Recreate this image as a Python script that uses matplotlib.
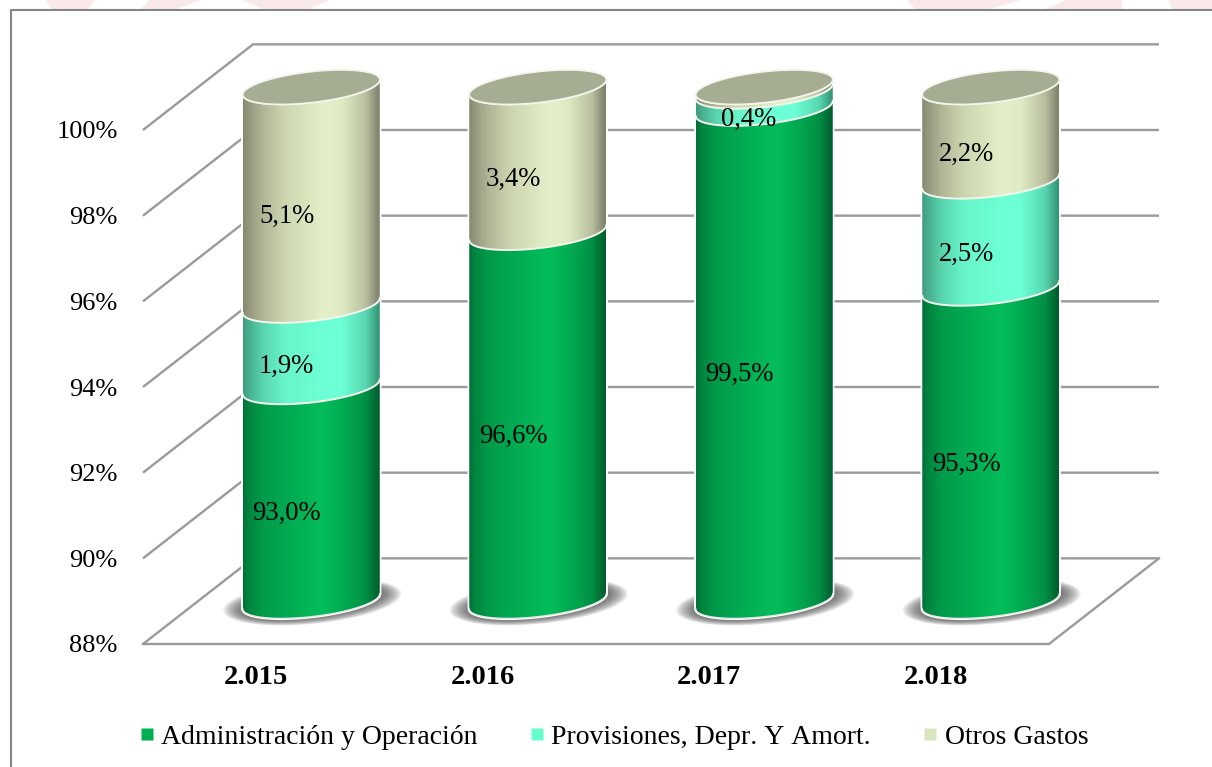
import numpy as np
import matplotlib
matplotlib.use("Agg")
import matplotlib.pyplot as plt
from matplotlib.colors import LinearSegmentedColormap
from matplotlib.lines import Line2D
from matplotlib.patches import Polygon

plt.rcParams["text.kerning_factor"] = 16  # the reference text is set without pair kerning

# ---- data ----
years = ["2.015", "2.016", "2.017", "2.018"]
admin = [93.0, 96.6, 99.5, 95.3]
prov = [1.9, 0.0, 0.4, 2.5]
otros = [5.1, 3.4, 0.1, 2.2]
series_names = ["Administración y Operación", "Provisiones, Depr. Y Amort.", "Otros Gastos"]
y_ticks = [88, 90, 92, 94, 96, 98, 100]
y_labels = ["88%", "90%", "92%", "94%", "96%", "98%", "100%"]
shown_labels = [
    ["93,0%", "96,6%", "99,5%", "95,3%"],
    ["1,9%", None, "0,4%", "2,5%"],
    ["5,1%", "3,4%", None, "2,2%"],
]

# ---- style ----
W, H = 1212, 767
FONT = "Liberation Serif"
grad_stops = [0, .04, .14, .3, .58, .72, .9, .97, 1]
green_grad = ["#007038", "#00843f", "#009a4a", "#00a851", "#04bd5a", "#00ad53", "#008f45", "#006a34", "#005c2c"]
mint_grad = ["#3f9c80", "#48ad8e", "#58d3ad", "#68f5ca", "#6dffd5", "#6dffd5", "#58d6b0", "#3ea584", "#2f9274"]
olive_grad = ["#85876f", "#95987f", "#b0b596", "#ccd5af", "#e3f0c8", "#dfebc4", "#b9bf9f", "#8e917a", "#7d7f6a"]
legend_colors = ["#00b050", "#66ffcc", "#d9e5bf"]
top_color = "#a5ae93"
grid_color = "#9a9a9a"
pink = "#f9e9e9"
frame_color = "#858585"

fig = plt.figure(figsize=(W / 100, H / 100), dpi=100, facecolor="white")
plt.rcParams["font.family"] = FONT


def fig_px(x, y):
    return x / W, 1 - y / H


# faint watermark showing above the frame
for xs in [(45, 95, 88, 52), (150, 201, 177, 141), (243, 329, 310, 262), (907, 1021, 990, 915),
           (1066, 1122, 1122, 1045), (1168, 1212, 1212, 1172)]:
    fig.add_artist(Polygon([fig_px(xs[0], 0), fig_px(xs[1], 0), fig_px(xs[2], 9), fig_px(xs[3], 9)],
                           closed=True, transform=fig.transFigure, fc=pink, ec="none"))
# outer frame
fig.add_artist(Line2D([11 / W, 11 / W, 1], [0, 1 - 9.5 / H, 1 - 9.5 / H], transform=fig.transFigure,
                      color=frame_color, lw=1.5))

ax = fig.add_axes([143 / W, 1 - 644 / H, 906 / W, 514 / H])
ax.set_xlim(-0.5, 3.5)
ax.set_ylim(88, 100)
ax.patch.set_visible(False)
for s in ax.spines.values():
    s.set_visible(False)
ax.set_xticks(range(len(years)), years, fontfamily=FONT, fontsize=20.5, fontweight="bold")
ax.set_yticks(y_ticks, y_labels, fontfamily=FONT, fontsize=19)
ax.tick_params(axis="x", length=0, pad=15)
ax.tick_params(axis="y", length=0, pad=18.2)

ux = 226.5  # px per category
uy = 514 / 12  # px per percent
dx, dy = 110 / ux, 2.0  # 3D depth in data units
hw = 68.5 / ux
eb = 15.5 / uy
et = 7.5 / uy

# walls: gridlines run along the side then the back
x0, x1 = ax.get_xlim()
for v in y_ticks:
    ax.plot([x0, x0 + dx, x1 + dx], [v, v + dy, v + dy], color=grid_color, lw=1.7, clip_on=False, zorder=1,
            solid_joinstyle="miter", solid_capstyle="butt")
ax.plot([x1 + dx, x1, x0], [88 + dy, 88, 88], color=grid_color, lw=1.7, clip_on=False, zorder=1,
        solid_joinstyle="miter")


def ring(cx, cy, a=hw, b=eb, t_=et, ts=None):
    ts = np.linspace(0, 2 * np.pi, 121) if ts is None else ts
    return np.column_stack([cx + a * np.cos(ts), cy + t_ * np.cos(ts) + b * np.sin(ts)])


front = np.linspace(np.pi, 2 * np.pi, 61)
cmaps = [LinearSegmentedColormap.from_list(n, list(zip(grad_stops, c)))
         for n, c in (("g", green_grad), ("m", mint_grad), ("o", olive_grad))]
gradient = np.linspace(0, 1, 256)[None, :]
floor = y_ticks[0]

for i in range(len(years)):
    cx = i + dx / 2
    base = floor + dy / 2
    # blurred floor shadow
    n = 14
    for k in range(n):
        f = 1 - k / n
        ax.add_patch(Polygon(ring(cx + 1 / ux, base - .02, hw * (1.0 + .30 * f), eb * (1.0 + .42 * f), et * 1.1),
                             closed=True, fc="#4a4a4a", ec="none", alpha=.085, zorder=2, clip_on=False))
    # white halo around the whole cylinder
    total = admin[i] + prov[i] + otros[i]
    sil = np.vstack([ring(cx, base, ts=front), ring(cx, total + dy / 2, ts=np.linspace(0, np.pi, 61))])
    ax.add_patch(Polygon(sil, closed=True, fc="white", ec="white", lw=2.4, zorder=3, clip_on=False))
    cum = 0.0
    for j, vals in enumerate((admin, prov, otros)):
        val = vals[i]
        if val <= 0:
            continue
        bottom = max(cum, floor)  # the value axis starts at 88 %
        top = cum + val
        low = ring(cx, bottom + dy / 2, ts=front)
        up = ring(cx, top + dy / 2, ts=front)
        poly = np.vstack([low, up[::-1]])
        clip = Polygon(poly, closed=True, transform=ax.transData, fc="none", ec="none")
        ax.add_patch(clip)
        clip.set_clip_on(False)
        im = ax.imshow(gradient, cmap=cmaps[j], vmin=0, vmax=1, aspect="auto", interpolation="bilinear",
                       extent=(cx - hw, cx + hw, bottom, top + dy), zorder=4 + j * .1, origin="lower")
        im.set_clip_box(fig.bbox)
        im.set_clip_path(clip)
        ax.plot(up[:, 0], up[:, 1], color="#f4f6ee", lw=1.4, zorder=5, clip_on=False)
        label = shown_labels[j][i]
        if label:
            shift = 16 if val < 1 else 24.5  # the thin band's label sits nearer the middle
            ax.text(cx - shift / ux, (bottom + top) / 2 + .54, label, ha="center", va="center", fontfamily=FONT,
                    fontsize=19.2, color="black", zorder=8)
        cum = top
    ax.add_patch(Polygon(ring(cx, cum + dy / 2), closed=True, fc=top_color, ec="#f4f4ee", lw=1.2, zorder=6,
                         clip_on=False))
    # pale base edge
    b_arc = ring(cx, base, ts=front)
    ax.plot(b_arc[:, 0], b_arc[:, 1], color="#e4e8e4", lw=1, zorder=5, clip_on=False)

ax.set_xlim(-0.5, 3.5)
ax.set_ylim(88, 100)

handles = [Line2D([], [], ls="none", marker="s", ms=9, mfc=c, mec="none") for c in legend_colors]
fig.legend(handles, series_names, loc="center left", bbox_to_anchor=(133 / W, 1 - 737 / H), ncol=3, frameon=False,
           prop={"family": FONT, "size": 20}, handlelength=1.0, handletextpad=0.02, columnspacing=1.63,
           borderpad=0, borderaxespad=0)

fig.savefig("out.png", dpi=100, facecolor="white")
